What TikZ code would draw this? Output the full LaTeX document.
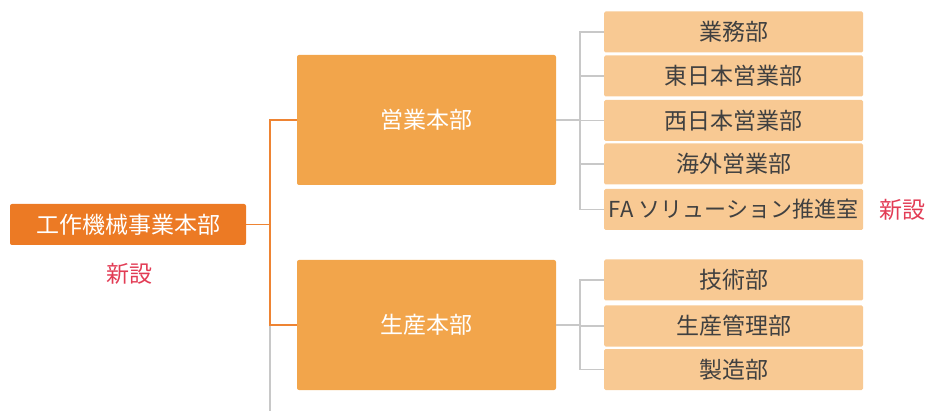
\documentclass[tikz,border=0pt]{standalone}
\usepackage{fontspec}
\newfontfamily\jp{Noto Sans CJK JP}
\definecolor{rootc}{HTML}{EC7A24}
\definecolor{midc}{HTML}{F2A54B}
\definecolor{leafc}{HTML}{F8C993}
\definecolor{linec}{HTML}{EE8433}
\definecolor{grayl}{HTML}{C8C8C8}
\definecolor{newc}{HTML}{E23C55}
\definecolor{txtc}{HTML}{404040}
\tikzset{
  rootbox/.style={fill=rootc, rounded corners=2pt, text=white, inner sep=0pt, minimum width=236pt, minimum height=41pt, font=\jp\fontsize{23}{23}\selectfont},
  midbox/.style={fill=midc, rounded corners=2pt, text=white, inner sep=0pt, minimum width=259pt, minimum height=130pt, font=\jp\fontsize{23}{23}\selectfont},
  leafbox/.style={fill=leafc, rounded corners=1.5pt, text=txtc, inner sep=0pt, minimum width=259pt, minimum height=41pt, font=\jp\fontsize{23}{23}\selectfont},
  newlabel/.style={text=newc, inner sep=0pt, font=\jp\fontsize{23}{23}\selectfont},
  oline/.style={draw=linec, line width=1.5pt},
  gline/.style={draw=grayl, line width=1.2pt}
}
\begin{document}
\begin{tikzpicture}[x=1pt,y=-1pt]
\useasboundingbox (0,0) rectangle (928,411);
% root
\node[rootbox] (root) at (128,224.5) {工作機械事業本部};
\node[newlabel] (new1) at (129,274) {新設};
% mid boxes
\node[midbox] (sales) at (426.5,120) {営業本部};
\node[midbox] (prod) at (426.5,325) {生産本部};
% leaves
\node[leafbox] (l1) at (733.5,32) {業務部};
\node[leafbox] (l2) at (733.5,76) {東日本営業部};
\node[leafbox] (l3) at (733.5,120.5) {西日本営業部};
\node[leafbox] (l4) at (733.5,164) {海外営業部};
\node[leafbox, font=\jp\fontsize{22}{22}\selectfont] (l5) at (733.5,209.5) {FA ソリューション推進室};
\node[newlabel] (new2) at (902,210) {新設};
\node[leafbox] (p1) at (733.5,280) {技術部};
\node[leafbox] (p2) at (733.5,326) {生産管理部};
\node[leafbox] (p3) at (733.5,369.5) {製造部};
% coordinates
\coordinate (bj) at (270,224.5);
\coordinate (bt) at (270,120);
\coordinate (bb) at (270,325);
\coordinate (bend) at (270,411);
\coordinate (s1) at (580,120);
\coordinate (s2) at (580,325);
% grey lines
\draw[gline] (bb) -- (bend);
\draw[gline] (sales.east) -- (s1);
\draw[gline] (l1.west) -| (s1 |- l5.west) -- (l5.west);
\foreach \n in {l2,l3,l4} \draw[gline] (s1 |- \n.west) -- (\n.west);
\draw[gline] (prod.east) -- (s2);
\draw[gline] (p1.west) -| (s2 |- p3.west) -- (p3.west);
\draw[gline] (s2 |- p2.west) -- (p2.west);
% orange lines
\draw[oline] (root.east) -- (bj);
\draw[oline] (sales.west) -| (bj) |- (prod.west);
\end{tikzpicture}
\end{document}
